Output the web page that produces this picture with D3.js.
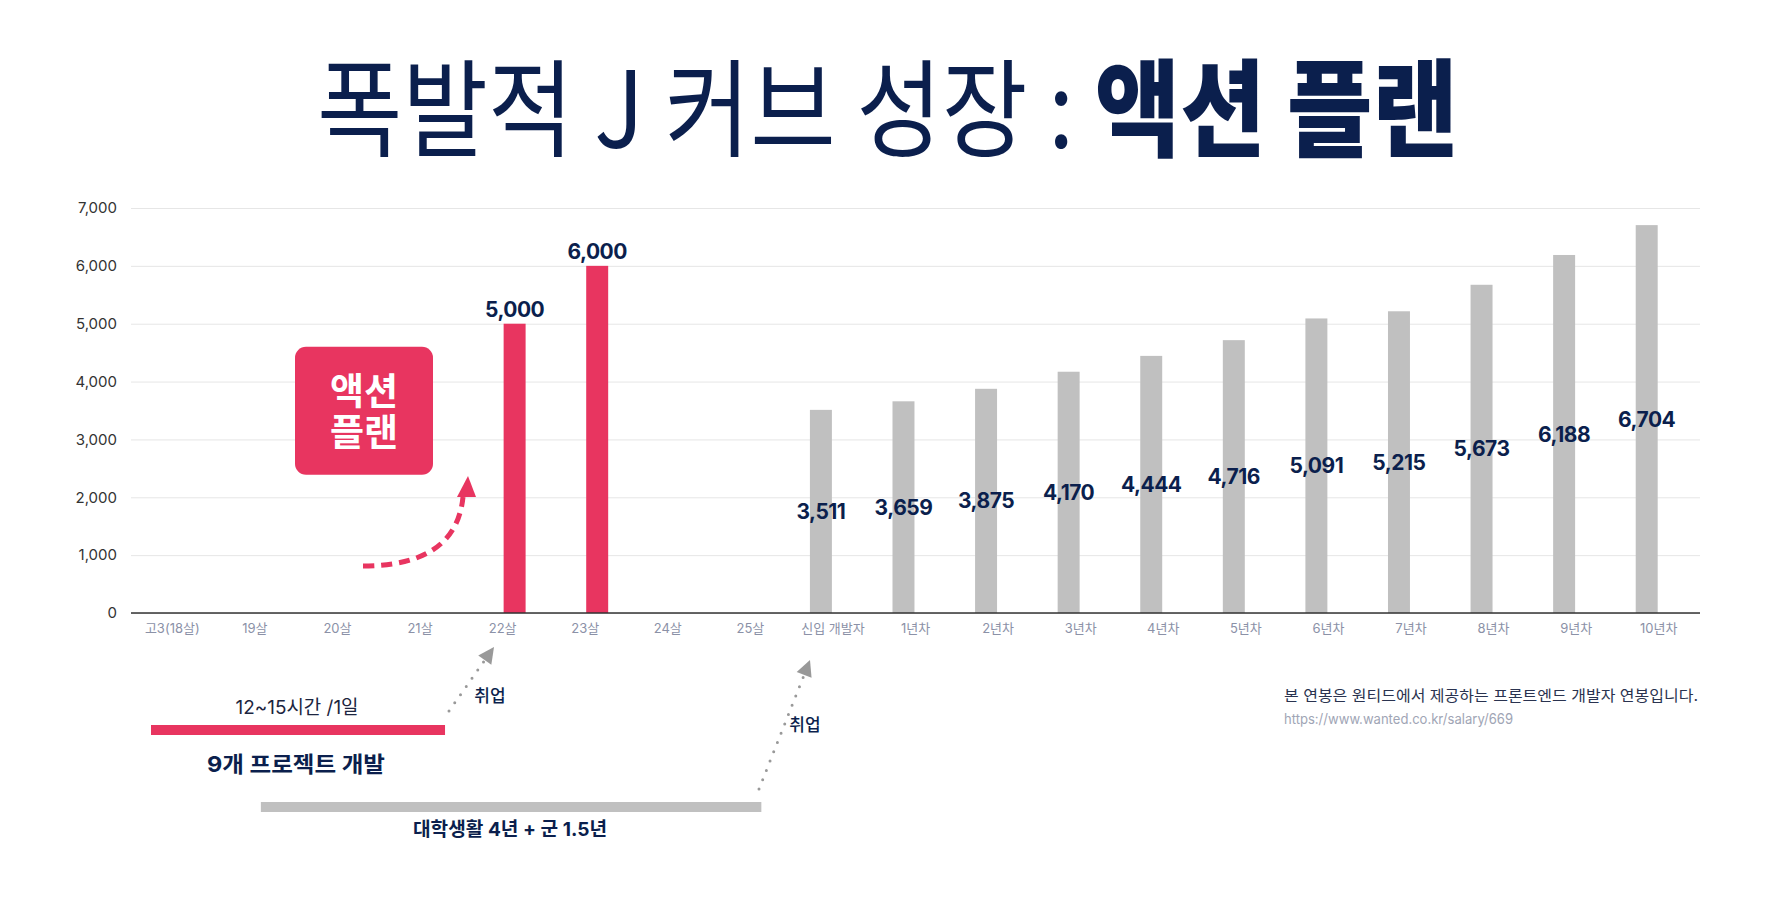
<!DOCTYPE html>
<html><head><meta charset="utf-8">
<script src="https://cdn.jsdelivr.net/npm/d3@7"></script>
<style>
body{margin:0;background:#fff;}
svg{display:block;}
text{font-family: Inter, "Noto Sans CJK KR", sans-serif;}
</style>
</head><body>
<svg id="chart" width="1776" height="901"></svg>
<script>
// ---- data ----
const categories = ["고3(18살)","19살","20살","21살","22살","23살","24살","25살","신입 개발자",
  "1년차","2년차","3년차","4년차","5년차","6년차","7년차","8년차","9년차","10년차"];
const seriesNames = ["원티드 연봉", "액션 플랜"];
const wantedSalary = [null,null,null,null,null,null,null,null,3511,3659,3875,4170,4444,4716,5091,5215,5673,6188,6704];
const actionPlan   = [null,null,null,null,5000,6000,null,null,null,null,null,null,null,null,null,null,null,null,null];
const yTicks = [0,1000,2000,3000,4000,5000,6000,7000];
const titleRegular = "폭발적 J 커브 성장 : ";
const titleBold = "액션 플랜";
const boxLines = ["액션", "플랜"];
const noteText = "본 연봉은 원티드에서 제공하는 프론트엔드 개발자 연봉입니다.";
const noteUrl = "https://www.wanted.co.kr/salary/669";
const hoursText = "12~15시간 /1일";
const projectsText = "9개 프로젝트 개발";
const collegeText = "대학생활 4년 + 군 1.5년";
const jobText = "취업";

(function(){
const svg = d3.select("#chart");
const W = 1776;
const navy = "#0b1f4d", red = "#e83560", gray = "#c0c0c0";
const pLeft = 131, pRight = 1700, pTop = 208, pBottom = 613;

const x0 = d3.scaleBand().domain(categories).range([pLeft, pRight]).padding(0);
const bw = x0.bandwidth();
const x1 = d3.scaleBand().domain(seriesNames).range([bw/2 - 23, bw/2 + 23]).paddingInner(0.085);
const y = d3.scaleLinear().domain([0, 7000]).range([pBottom, pTop]);

function fit(sel, w){ sel.attr("textLength", w).attr("lengthAdjust", "spacingAndGlyphs"); }

// ---- title ----
const title = svg.append("text").attr("x", W/2).attr("y", 148).attr("text-anchor", "middle")
  .attr("fill", navy).attr("font-size", 106).style("font-family", '"Noto Sans CJK KR", sans-serif');
title.append("tspan").attr("font-weight", 400).text(titleRegular);
title.append("tspan").attr("font-weight", 900).text(titleBold);
{
  const bb = title.node().getBBox();
  const target = 1141, tcx = 887.5;
  const s = target / bb.width;
  const bcx = bb.x + bb.width/2;
  title.attr("transform", `translate(${tcx},0) scale(${s},1) translate(${-bcx},0)`);
}

// ---- grid + y axis ----
const yAxis = d3.axisLeft(y).tickValues(yTicks).tickFormat(d3.format(",")).tickSize(-(pRight-pLeft)).tickPadding(14);
const gy = svg.append("g").attr("transform", `translate(${pLeft},0)`).call(yAxis);
gy.select(".domain").remove();
gy.selectAll(".tick line").attr("stroke", "#e6e6e6").attr("stroke-width", 1);
gy.selectAll(".tick text").attr("fill", "#333").attr("font-size", 15).style("font-family", "Inter, sans-serif");

// ---- x axis ----
const xAxis = d3.axisBottom(x0).tickSize(0).tickPadding(11);
const gx = svg.append("g").attr("transform", `translate(0,${pBottom})`).call(xAxis);
gx.select(".domain").remove();
gx.selectAll(".tick text").attr("fill", "#8b91a7").attr("font-size", 13);

// ---- bars ----
const rows = categories.map((c, i) => ({c, vals: [wantedSalary[i], actionPlan[i]]}));
const groups = svg.append("g").selectAll("g").data(rows).join("g")
  .attr("transform", d => `translate(${x0(d.c)},0)`);
const entries = d => d.vals.map((v, k) => ({s: seriesNames[k], v})).filter(e => e.v != null);
groups.selectAll("rect").data(entries).join("rect")
  .attr("x", e => x1(e.s)).attr("width", x1.bandwidth())
  .attr("y", e => y(e.v)).attr("height", e => y(0) - y(e.v))
  .attr("fill", e => e.s === seriesNames[1] ? red : gray);

// baseline
svg.append("line").attr("x1", pLeft).attr("x2", pRight).attr("y1", pBottom).attr("y2", pBottom)
  .attr("stroke", "#333").attr("stroke-width", 1.5);

// value labels
const fmt = d3.format(",");
groups.selectAll("text.val").data(entries).join("text").attr("class", "val")
  .attr("x", e => x1(e.s) + x1.bandwidth()/2)
  .attr("y", e => e.s === seriesNames[1] ? y(e.v) - 7 : y(e.v/2))
  .attr("dy", e => e.s === seriesNames[1] ? 0 : "0.36em")
  .attr("text-anchor", "middle").attr("fill", navy)
  .attr("font-size", 21).attr("font-weight", 700).style("letter-spacing", "-0.5px")
  .text(e => fmt(e.v));

// ---- action plan box ----
svg.append("rect").attr("x", 295).attr("y", y(5000) + 23).attr("width", 138).attr("height", 128)
  .attr("rx", 11).attr("fill", red);
const boxText = svg.append("text").attr("text-anchor", "middle").attr("fill", "#fff")
  .attr("font-size", 37).attr("font-weight", 700)
  .style("font-family", '"Noto Sans CJK KR", sans-serif');
boxText.selectAll("tspan").data(boxLines).join("tspan")
  .attr("x", 364).attr("y", (d, i) => y(5000) + 81 + i * 41)
  .text(d => d);

// dashed curved arrow
svg.append("path").attr("d", "M363,566 Q456,566 463,497")
  .attr("fill", "none").attr("stroke", red).attr("stroke-width", 5).attr("stroke-dasharray", "11 7");
svg.append("path").attr("d", "M468,476 L476,497 L457,497 Z").attr("fill", red);

// ---- timeline annotations ----
const cx = c => x0(c) + bw/2;
const rStart = x0(categories[0]) + 20, rEnd = cx("21살") + 25;
svg.append("rect").attr("x", rStart).attr("y", 725).attr("width", rEnd - rStart).attr("height", 10).attr("fill", red);
const t1 = svg.append("text").attr("x", 297).attr("y", 714).attr("text-anchor", "middle").attr("fill", "#1c2540")
  .attr("font-size", 19).text(hoursText);
fit(t1, 123);
const t2 = svg.append("text").attr("x", 296).attr("y", 772).attr("text-anchor", "middle").attr("fill", navy)
  .attr("font-size", 22).attr("font-weight", 700).text(projectsText);
fit(t2, 178);
const gStart = cx("19살") + 6, gEnd = cx("25살") + 11;
svg.append("rect").attr("x", gStart).attr("y", 802).attr("width", gEnd - gStart).attr("height", 10).attr("fill", gray);
const t3 = svg.append("text").attr("x", 510).attr("y", 836).attr("text-anchor", "middle").attr("fill", navy)
  .attr("font-size", 19).attr("font-weight", 700).text(collegeText);
fit(t3, 194);

function dottedArrow(ax, ay, bx2, by2){
  const ang = Math.atan2(by2 - ay, bx2 - ax);
  const L = 16, Wd = 8;
  const bx = bx2 - L*Math.cos(ang), by = by2 - L*Math.sin(ang);
  svg.append("line").attr("x1", ax).attr("y1", ay).attr("x2", bx).attr("y2", by)
    .attr("stroke", "#999").attr("stroke-width", 3).attr("stroke-linecap", "round").attr("stroke-dasharray", "0 10");
  const px = -Math.sin(ang), py = Math.cos(ang);
  svg.append("path").attr("d", `M${bx2},${by2} L${bx + px*Wd},${by + py*Wd} L${bx - px*Wd},${by - py*Wd} Z`).attr("fill", "#999");
}
dottedArrow(449, 711, 494, 647);
dottedArrow(759, 789, 810, 660);
svg.append("text").attr("x", 490).attr("y", 702).attr("text-anchor", "middle").attr("fill", navy)
  .attr("font-size", 17).attr("font-weight", 500).style("font-family", '"Noto Sans CJK KR", sans-serif').text(jobText);
svg.append("text").attr("x", 805).attr("y", 731).attr("text-anchor", "middle").attr("fill", navy)
  .attr("font-size", 17).attr("font-weight", 500).style("font-family", '"Noto Sans CJK KR", sans-serif').text(jobText);

// ---- note ----
const n1 = svg.append("text").attr("x", 1284).attr("y", 701).attr("fill", "#2a3350").attr("font-size", 15).text(noteText);
fit(n1, 414);
const n2 = svg.append("text").attr("x", 1284).attr("y", 724).attr("fill", "#a0a5b5").attr("font-size", 14).text(noteUrl);
fit(n2, 229);
})();
</script>
</body></html>
